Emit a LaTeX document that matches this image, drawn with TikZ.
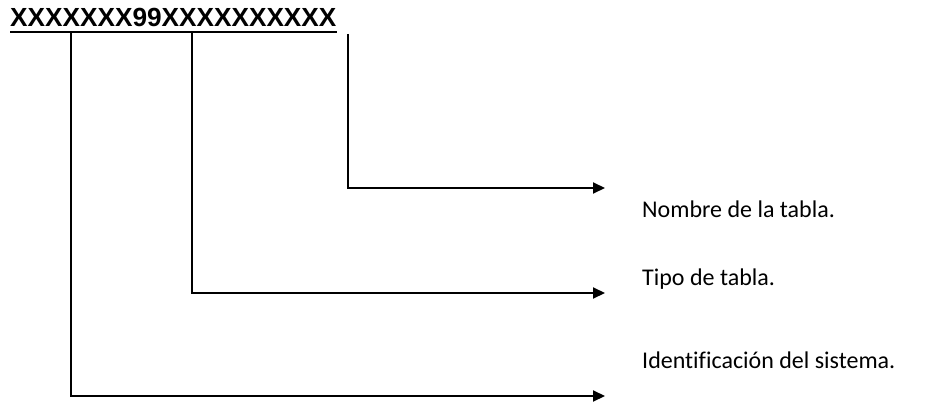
\documentclass[tikz,border=0pt]{standalone}
\usepackage{fontspec}
\usetikzlibrary{arrows.meta}
\newfontfamily\titlefont{Liberation Sans}
\newfontfamily\labelfont[Ligatures=NoCommon]{Carlito}
\begin{document}
\begin{tikzpicture}[x=1pt,y=-1pt,
  titlestyle/.style={inner sep=0pt,anchor=base west,font=\titlefont\bfseries\fontsize{26.2}{30}\selectfont},
  labelstyle/.style={inner sep=0pt,anchor=base west,font=\labelfont\fontsize{24}{28}\selectfont},
  conn/.style={line width=2pt,-{Triangle[length=12pt,width=11pt]}},
  uline/.style={line width=2.2pt}]
\useasboundingbox (0,0) rectangle (925,403);
\node[titlestyle] (title) at (10,27) {XXXXXXX99XXXXXXXXXX};
\draw[uline] (title.base west |- 0,32) -- (337,32);
\coordinate (t1) at (71,33);
\coordinate (t2) at (192,33);
\coordinate (t3) at (348,34);
\coordinate (e1) at (605,396);
\coordinate (e2) at (605,293);
\coordinate (e3) at (605,188);
\draw[conn] (t1) |- (e1);
\draw[conn] (t2) |- (e2);
\draw[conn] (t3) |- (e3);
\node[labelstyle] (l3) at (642,218) {Nombre de la tabla.};
\node[labelstyle] (l2) at (642,285) {Tipo de tabla.};
\node[labelstyle] (l1) at (642,368) {Identificación del sistema.};
\end{tikzpicture}
\end{document}
